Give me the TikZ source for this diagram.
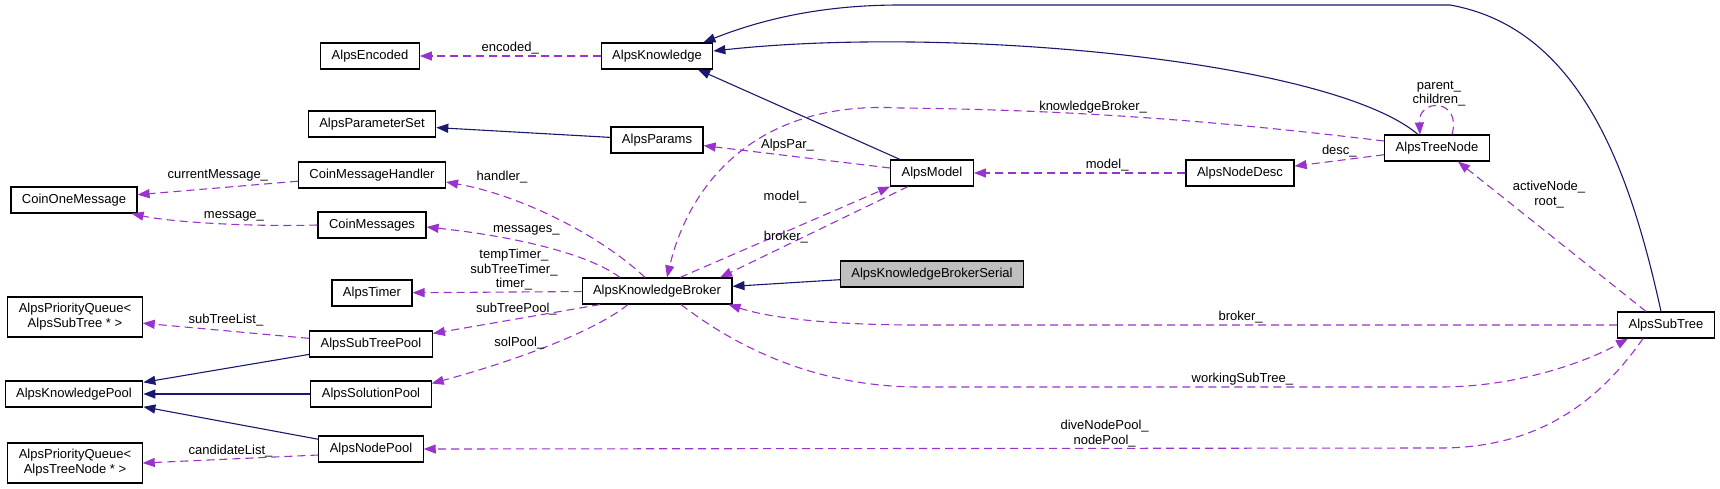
\documentclass[tikz,border=0pt]{standalone}
\usepackage{fontspec}
\setmainfont{Liberation Sans}
\usetikzlibrary{arrows.meta,positioning}
\definecolor{edgeblue}{HTML}{191970}
\definecolor{edgepurple}{HTML}{9A32CD}
\definecolor{boxgray}{HTML}{BFBFBF}

\begin{document}
\begin{tikzpicture}[x=1pt,y=-1pt,>={Triangle[length=12pt,width=9pt]},node distance=50pt,
    cls/.style={draw,line width=1.1pt,fill=white,minimum height=26pt,inner xsep=11pt,inner ysep=2pt,font=\fontsize{13}{15}\selectfont,align=center},
    lbl/.style={font=\fontsize{13}{14.5}\selectfont,align=center,inner sep=1pt,text=black},
    inherit/.style={->,color=edgeblue,line width=1.1pt},
    uses/.style={->,color=edgepurple,line width=1.1pt,dash pattern=on 8pt off 5pt}]

    \useasboundingbox (0,0) rectangle (1720,488);

    \node[cls] (enc) at (370,56) {AlpsEncoded};
    \node[cls] (know) at (657,56) {AlpsKnowledge};
    \node[cls] (pset) at (372,124) {AlpsParameterSet};
    \node[cls] (params) at (657,140) {AlpsParams};
    \node[cls] (cmh) at (372,175) {CoinMessageHandler};
    \node[cls] (cmsg) [below of = cmh, node distance=50pt] {CoinMessages};
    \node[cls] (com) at (74,200) {CoinOneMessage};
    \node[cls] (model) at (932,173) {AlpsModel};
    \node[cls] (ndesc) at (1240,173) {AlpsNodeDesc};
    \node[cls] (tnode) at (1437,148) {AlpsTreeNode};
    \node[cls] (broker) at (657,291) {AlpsKnowledgeBroker};
    \node[cls, fill=boxgray] (serial) at (932,274) {AlpsKnowledgeBrokerSerial};
    \node[cls] (timer) at (372,293) {AlpsTimer};
    \node[cls] (stpool) at (371,344) {AlpsSubTreePool};
    \node[cls] (solpool) [below of = stpool] {AlpsSolutionPool};
    \node[cls] (npool) [below of = solpool, node distance=55pt] {AlpsNodePool};
    \node[cls, minimum height=40pt] (pqsub) at (75,317) {AlpsPriorityQueue<\\AlpsSubTree * >};
    \node[cls] (kpool) at (74,394) {AlpsKnowledgePool};
    \node[cls, minimum height=40pt] (pqnode) at (75,463) {AlpsPriorityQueue<\\AlpsTreeNode * >};
    \node[cls] (subtree) at (1666,325) {AlpsSubTree};

    % base classes
    \draw[inherit] ([xshift=-32pt]model.north) -- ([xshift=41pt]know.south);
    \draw[inherit] ([xshift=-19pt]tnode.north) .. controls (1330,60) and (950,25) .. ([yshift=5pt]know.east);
    \draw[inherit] ([xshift=-5pt]subtree.north) .. controls (1630,170) and (1580,28) .. (1450,5) -- (900,5) .. controls (820,5) and (760,20) .. ([xshift=-10pt]know.north east);
    \draw[inherit] (serial) -- (broker);
    \draw[inherit] (params) -- (pset);
    \draw[inherit] (stpool) -- (kpool);
    \draw[inherit] (solpool) -- (kpool);
    \draw[inherit] (npool) -- (kpool);

    % members
    \draw[uses] (know) -- node[lbl, above] {encoded\_} (enc);
    \draw[uses] (cmh) -- node[lbl, above=5pt] {currentMessage\_} (com);
    \draw[uses] (cmsg.west) .. controls (250,227) and (170,222) .. node[lbl, above=2pt, pos=.4] {message\_} ([xshift=-6pt]com.south east);
    \draw[uses] ([xshift=-12pt]broker.north) .. controls (600,235) and (520,195) .. node[lbl, above=12pt, pos=.75] {handler\_} ([yshift=-7pt]cmh.east);
    \draw[uses] ([xshift=-37pt]broker.north) .. controls (590,255) and (520,237) .. node[lbl, above=6pt, pos=.6] {messages\_} ([yshift=-2pt]cmsg.east);
    \draw[uses] (broker) -- node[lbl, above, pos=.4] {tempTimer\_\\subTreeTimer\_\\timer\_} (timer);
    \draw[uses] ([xshift=-57pt]broker.south) -- node[lbl, above=2pt] {subTreePool\_} ([yshift=-3pt]stpool.north east);
    \draw[uses] ([xshift=-29pt]broker.south) .. controls (590,335) and (500,365) .. node[lbl, above=6pt, pos=.6] {solPool\_} ([yshift=-3pt]solpool.north east);
    \draw[uses] (stpool) -- node[lbl, above=3pt] {subTreeList\_} (pqsub);
    \draw[uses] ([yshift=-6pt]npool.west) -- node[lbl, above=0pt] {candidateList\_} (pqnode.east);
    \draw[uses] ([xshift=-23pt]subtree.south) .. controls (1600,400) and (1540,448) .. (1440,448) -- node[lbl, above, pos=.33] {diveNodePool\_\\nodePool\_} (npool.east);
    \draw[uses] ([xshift=24pt]broker.south) .. controls (740,350) and (820,387) .. (920,387) -- node[lbl, above=0pt, pos=.62] {workingSubTree\_} (1440,387) .. controls (1520,387) and (1590,360) .. ([xshift=-38pt]subtree.south);
    \draw[uses] (subtree.west) -- node[lbl, above, pos=.54] {broker\_} (920,325) .. controls (830,325) and (770,318) .. ([xshift=-4pt]broker.south east);
    \draw[uses] ([xshift=-20pt]subtree.north) -- node[lbl, pos=.78, right=12pt] {activeNode\_\\root\_} ([xshift=21pt]tnode.south);
    \draw[uses] ([xshift=15pt]tnode.north) .. controls (1462,98) and (1418,98) .. node[lbl, above=-1pt, pos=.5] {parent\_\\children\_} ([xshift=-17pt]tnode.north);
    \draw[uses] (tnode) -- node[lbl, above=2pt] {desc\_} (ndesc);
    \draw[uses] (ndesc) -- node[lbl, above, pos=.37] {model\_} (model);
    \draw[uses] (model) -- node[lbl, above=3pt, pos=.55] {AlpsPar\_} (params);
    \draw[uses] ([xshift=23pt]broker.north) -- node[lbl, above=27pt, pos=.5] {model\_} (model.south west);
    \draw[uses] ([xshift=-24pt]model.south) -- node[lbl, above=1pt, pos=.65] {broker\_} ([xshift=63pt]broker.north);
    \draw[uses] ([yshift=7pt]tnode.west) .. controls (1250,125) and (1100,110) .. node[lbl, above, pos=.65] {knowledgeBroker\_} (900,108) .. controls (760,100) and (690,180) .. ([xshift=10pt]broker.north);

\end{tikzpicture}
\end{document}
